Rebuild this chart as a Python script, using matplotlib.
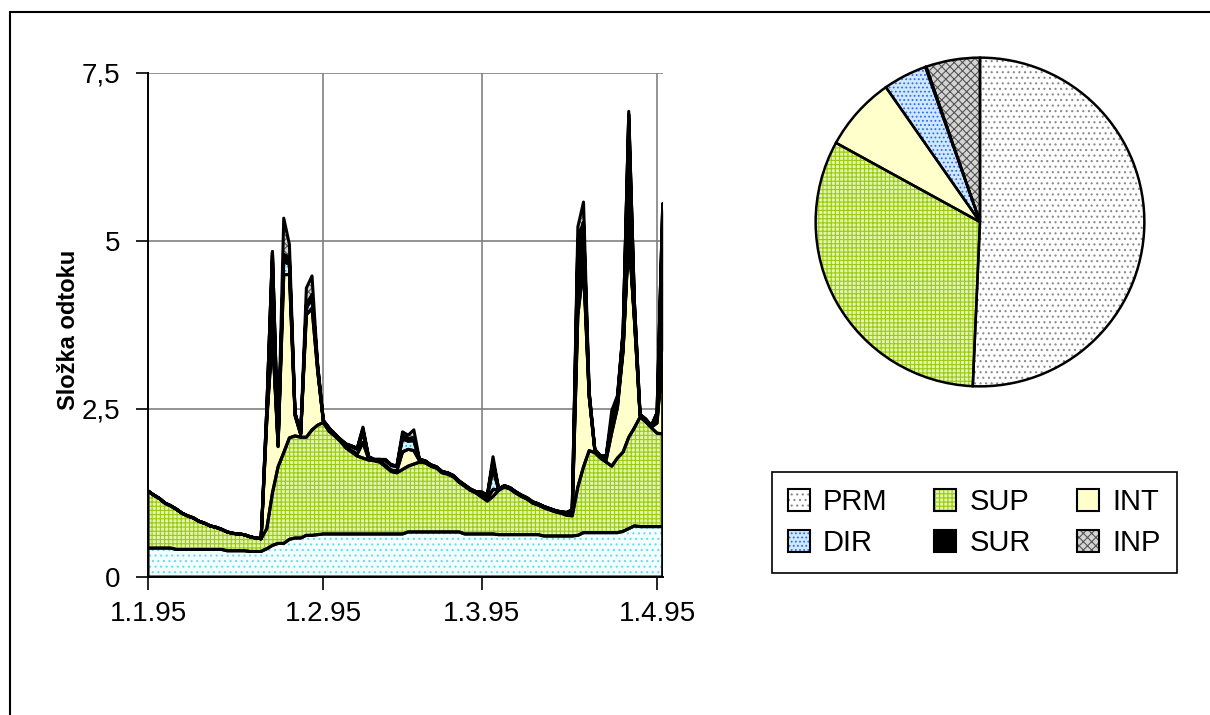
import numpy as np
import pandas as pd
import matplotlib
matplotlib.use('Agg')
import matplotlib.pyplot as plt
import matplotlib.dates as mdates
from matplotlib.patches import Patch, Rectangle

plt.rcParams['font.family'] = ['Liberation Sans', 'DejaVu Sans']
plt.rcParams['hatch.linewidth'] = 0.8

# daily values, 1.1.1995 - 2.4.1995
dates = pd.date_range('1995-01-01', periods=92, freq='D')

prm = [0.43, 0.43, 0.43, 0.43, 0.43, 0.41, 0.41, 0.41, 0.41, 0.41,
       0.41, 0.41, 0.41, 0.41, 0.39, 0.39, 0.39, 0.39, 0.38, 0.38,
       0.38, 0.42, 0.47, 0.50, 0.50, 0.56, 0.58, 0.58, 0.62, 0.62,
       0.63, 0.64, 0.64, 0.64, 0.64, 0.64, 0.64, 0.64, 0.64, 0.64,
       0.64, 0.64, 0.64, 0.64, 0.64, 0.64, 0.67, 0.67, 0.67, 0.67,
       0.67, 0.67, 0.67, 0.67, 0.67, 0.67, 0.64, 0.64, 0.64, 0.64,
       0.64, 0.64, 0.63, 0.63, 0.63, 0.63, 0.63, 0.63, 0.63, 0.63,
       0.61, 0.61, 0.61, 0.61, 0.61, 0.61, 0.62, 0.66, 0.66, 0.66,
       0.66, 0.66, 0.66, 0.66, 0.68, 0.72, 0.76, 0.75, 0.75, 0.75,
       0.75, 0.75]
sup = [0.85, 0.79, 0.74, 0.67, 0.63, 0.60, 0.54, 0.50, 0.47, 0.42,
       0.39, 0.35, 0.33, 0.30, 0.28, 0.26, 0.25, 0.24, 0.22, 0.20,
       0.19, 0.30, 0.78, 1.14, 1.35, 1.51, 1.52, 1.50, 1.46, 1.57,
       1.63, 1.66, 1.53, 1.46, 1.38, 1.28, 1.22, 1.16, 1.13, 1.10,
       1.09, 1.07, 1.00, 0.93, 0.91, 0.96, 0.98, 1.01, 1.04, 1.03,
       0.98, 0.95, 0.88, 0.86, 0.82, 0.74, 0.71, 0.65, 0.61, 0.55,
       0.49, 0.56, 0.66, 0.71, 0.68, 0.62, 0.57, 0.53, 0.47, 0.44,
       0.42, 0.39, 0.36, 0.34, 0.31, 0.30, 0.72, 0.98, 1.22, 1.19,
       1.11, 1.05, 0.99, 1.11, 1.18, 1.36, 1.46, 1.63, 1.56, 1.47,
       1.39, 1.38]
int_ = [0, 0, 0, 0, 0, 0, 0, 0, 0, 0,
        0, 0, 0, 0, 0, 0, 0, 0, 0, 0,
        0, 1.60, 2.35, 0.30, 2.65, 2.43, 0.30, 0.04, 1.82, 1.81,
        0.80, 0.02, 0.04, 0.02, 0.02, 0.02, 0.02, 0.03, 0.23, 0.02,
        0.01, 0.01, 0.02, 0.02, 0.03, 0.26, 0.25, 0.20, 0.02, 0.01,
        0.01, 0.01, 0.01, 0.01, 0.01, 0.01, 0.01, 0.01, 0.01, 0.02,
        0.04, 0.10, 0.01, 0.01, 0.01, 0.01, 0.01, 0.01, 0.01, 0.01,
        0.01, 0.01, 0.01, 0.01, 0.01, 0.02, 2.56, 2.96, 0.80, 0.03,
        0.01, 0.03, 0.50, 0.75, 1.50, 3.02, 1.60, 0.02, 0.02, 0.01,
        0.15, 1.17]
dir_ = [0, 0, 0, 0, 0, 0, 0, 0, 0, 0,
        0, 0, 0, 0, 0, 0, 0, 0, 0, 0,
        0, 0.05, 0.10, 0.02, 0.20, 0.15, 0.02, 0.01, 0.10, 0.15,
        0.04, 0, 0, 0, 0.01, 0.03, 0.06, 0.07, 0.15, 0.02,
        0, 0.02, 0.07, 0.07, 0.06, 0.20, 0.12, 0.15, 0.01, 0.01,
        0, 0, 0, 0, 0, 0, 0, 0, 0, 0.03,
        0.03, 0.30, 0, 0, 0, 0, 0, 0, 0, 0,
        0, 0, 0, 0, 0.02, 0.05, 0.15, 0.12, 0.02, 0.01,
        0.01, 0.04, 0.15, 0.05, 0.04, 0.05, 0.03, 0.01, 0.01, 0.01,
        0.05, 0.08]
sur = [0, 0, 0, 0, 0, 0, 0, 0, 0, 0,
       0, 0, 0, 0, 0, 0, 0, 0, 0, 0,
       0, 0.13, 1.14, 0.04, 0.10, 0.10, 0.02, 0.01, 0.05, 0.05,
       0.05, 0.01, 0.01, 0.01, 0, 0.01, 0.01, 0.01, 0.05, 0.01,
       0.01, 0.01, 0.01, 0.01, 0.01, 0.04, 0.04, 0.04, 0.01, 0.01,
       0.01, 0.01, 0.01, 0.01, 0.01, 0.01, 0.01, 0.01, 0.01, 0.01,
       0.02, 0.12, 0.01, 0.01, 0.01, 0.01, 0.01, 0.01, 0.01, 0.01,
       0.01, 0.01, 0.01, 0.01, 0.01, 0.02, 0.96, 0.56, 0.05, 0.01,
       0.01, 0.02, 0.05, 0.10, 0.25, 1.73, 0.23, 0.01, 0.01, 0.01,
       0.10, 2.13]
inp = [0, 0, 0, 0, 0, 0, 0, 0, 0, 0,
       0, 0, 0, 0, 0, 0, 0, 0, 0, 0,
       0, 0, 0, 0, 0.54, 0.20, 0, 0, 0.25, 0.28,
       0, 0, 0, 0, 0, 0, 0, 0.01, 0.03, 0,
       0, 0, 0.01, 0, 0, 0.06, 0.05, 0.12, 0, 0,
       0, 0, 0, 0, 0, 0, 0, 0, 0, 0.02,
       0, 0.07, 0, 0, 0, 0, 0, 0, 0, 0,
       0, 0, 0, 0, 0, 0, 0.20, 0.30, 0, 0,
       0, 0, 0.13, 0.03, 0.02, 0.05, 0.02, 0, 0, 0,
       0.01, 0.05]

names = ['PRM', 'SUP', 'INT', 'DIR', 'SUR', 'INP']
pie_share = [50.7, 32.3, 7.3, 4.3, 0.1, 5.3]

ytick_vals = [0, 2.5, 5, 7.5]
ytick_labels = ['0', '2,5', '5', '7,5']
xtick_dates = ['1995-01-01', '1995-02-01', '1995-03-01', '1995-04-01']
xtick_labels = ['1.1.95', '1.2.95', '1.3.95', '1.4.95']

# fill colour, hatch, hatch colour
area_style = {
    'PRM': ('#f4feff', '...', '#66dcf0'),
    'SUP': ('#e4f3b0', '++++', '#99cc11'),
    'INT': ('#ffffcc', None, '#ffffcc'),
    'DIR': ('#d2f4ff', '....', '#2fa8e0'),
    'SUR': ('#000000', None, '#000000'),
    'INP': ('#d4d4d4', 'xxxx', '#555555'),
}
pie_style = dict(area_style)
pie_style['PRM'] = ('#ffffff', '...', '#8a8a8a')
pie_style['DIR'] = ('#cfe8ff', '....', '#2f6cf0')

W, H = 1210, 715
fig = plt.figure(figsize=(W / 100, H / 100), dpi=100)

# outer frame (only top/left edges fall inside the picture)
fig.add_artist(Rectangle((10 / W, -0.5), 2, 1.5 - 12 / H, transform=fig.transFigure,
                         fill=False, edgecolor='black', linewidth=1.5))

ax = fig.add_axes([148 / W, 1 - 577 / H, 514.7 / W, 504 / H])
x = mdates.date2num(dates)
base = np.zeros(len(x))
for name, vals in zip(names, [prm, sup, int_, dir_, sur, inp]):
    top = base + np.array(vals)
    fc, hatch, hc = area_style[name]
    ax.fill_between(x, base, top, facecolor=fc, edgecolor=hc, hatch=hatch,
                    linewidth=0, zorder=2)
    ax.fill_between(x, base, top, facecolor='none', edgecolor='black',
                    linewidth=2.2, zorder=3)
    base = top

ax.set_xlim(x[0], x[-1])
ax.set_ylim(0, 7.5)
ax.set_yticks(ytick_vals)
ax.set_yticklabels(ytick_labels)
ax.set_xticks(mdates.date2num(pd.to_datetime(xtick_dates)))
ax.set_xticklabels(xtick_labels)
ax.tick_params(direction='out', length=9, width=1.2, labelsize=20, pad=8)
ax.tick_params(axis='y', pad=11)
ax.grid(True, color='#808080', linewidth=1.2)
ax.set_axisbelow(True)
for s in ['top', 'right']:
    ax.spines[s].set_visible(False)
for s in ['left', 'bottom']:
    ax.spines[s].set_linewidth(1.4)
    ax.spines[s].set_zorder(4)
ax.set_ylabel('Složka odtoku', fontsize=17, fontweight='bold')
ax.yaxis.set_label_coords((80 - 148) / 514.7, 0.49)

# pie
pax = fig.add_axes([814 / W, 1 - 388 / H, 332 / W, 332 / H])
wedges, _ = pax.pie(pie_share, startangle=90, counterclock=False,
                    wedgeprops=dict(linewidth=0))
for w, name in zip(wedges, names):
    fc, hatch, hc = pie_style[name]
    w.set_facecolor(fc)
    w.set_edgecolor(hc)
    if hatch:
        w.set_hatch(hatch)
pax.pie(pie_share, startangle=90, counterclock=False, colors=['none'] * 6,
        wedgeprops=dict(edgecolor='black', linewidth=1.8))
pax.set_xlim(-1.01, 1.01)
pax.set_ylim(-1.01, 1.01)
pax.set_aspect('equal')

# legend, filled row by row
order = [0, 3, 1, 4, 2, 5]
handles, labels = [], []
for i in order:
    fc, hatch, hc = pie_style[names[i]]
    handles.append((Patch(facecolor=fc, edgecolor=hc, hatch=hatch, linewidth=0),
                    Patch(facecolor='none', edgecolor='black', linewidth=1.5)))
    labels.append(names[i])
leg = fig.legend(handles, labels, ncol=3, loc='upper left',
                 bbox_to_anchor=(772 / W, 1 - 472 / H), fontsize=21,
                 frameon=True, fancybox=False, edgecolor='black', framealpha=1,
                 handlelength=0.75, handleheight=0.75, handletextpad=0.45,
                 columnspacing=1.6, borderpad=0.55, labelspacing=0.45,
                 borderaxespad=0)
leg.get_frame().set_linewidth(1.2)

fig.savefig('out.png', dpi=100)
